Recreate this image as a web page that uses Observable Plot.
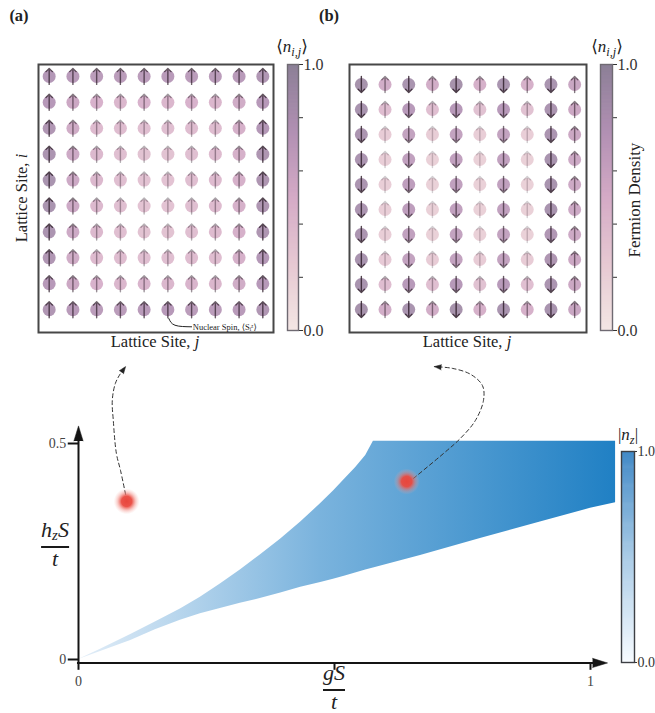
<!DOCTYPE html>
<html>
<head>
<meta charset="utf-8">
<script src="https://cdn.jsdelivr.net/npm/d3@7"></script>
<script src="https://cdn.jsdelivr.net/npm/@observablehq/plot@0.6"></script>
<style>
html, body { margin: 0; padding: 0; background: #fff; }
#fig { position: relative; width: 655px; height: 713px; overflow: hidden; background: #fff;
  font-family: "Liberation Serif", "Times New Roman", "DejaVu Serif", serif; color: #222; }
#fig svg { position: absolute; }
.lbl { position: absolute; white-space: nowrap; font-size: 16.5px; line-height: 1; }
.lbl sub { font-size: 0.72em; vertical-align: -0.35em; line-height: 0; }
.frac { position: absolute; display: inline-block; text-align: center; font-size: 22px; line-height: 20px; transform: translateX(-50%); white-space: nowrap; }
.frac .num { padding-bottom: 5px; line-height: 22px; }
.frac sub { font-size: 0.68em; vertical-align: -0.2em; line-height: 0; }
.frac .den { border-top: 2px solid #1a1a1a; line-height: 19px; padding-top: 1px; }
</style>
</head>
<body>
<div id="fig"></div>
<script>
// ---------------- data ----------------
// (a) fermion density <n_ij>, rows i (top -> bottom), columns j
const densityA = [
  [0.78,0.74,0.72,0.72,0.72,0.74,0.72,0.72,0.74,0.80],
  [0.76,0.60,0.50,0.46,0.50,0.46,0.50,0.46,0.56,0.76],
  [0.80,0.56,0.42,0.40,0.38,0.38,0.40,0.40,0.52,0.78],
  [0.84,0.58,0.44,0.38,0.35,0.35,0.38,0.42,0.52,0.82],
  [0.85,0.58,0.44,0.38,0.34,0.34,0.38,0.42,0.52,0.82],
  [0.85,0.58,0.44,0.38,0.34,0.34,0.38,0.42,0.52,0.82],
  [0.84,0.58,0.44,0.38,0.35,0.35,0.38,0.42,0.52,0.82],
  [0.80,0.56,0.42,0.40,0.38,0.38,0.40,0.40,0.52,0.78],
  [0.76,0.60,0.50,0.46,0.48,0.46,0.48,0.46,0.56,0.76],
  [0.80,0.74,0.72,0.72,0.74,0.76,0.72,0.72,0.74,0.80]
];
// (a) nuclear spin direction (+1 up, -1 down)
const spinA = [
  [1,1,1,1,1,1,1,1,1,1],[1,1,1,1,1,1,1,1,1,1],[1,1,1,1,1,1,1,1,1,1],[1,1,1,1,1,1,1,1,1,1],[1,1,1,1,1,1,1,1,1,1],
  [1,1,1,1,1,1,1,1,1,1],[1,1,1,1,1,1,1,1,1,1],[1,1,1,1,1,1,1,1,1,1],[1,1,1,1,1,1,1,1,1,1],[1,1,1,1,1,1,1,1,1,1]
];
// (b) fermion density
const densityB = [
  [0.88,0.55,0.85,0.55,0.88,0.52,0.85,0.52,0.85,0.62],
  [0.86,0.40,0.75,0.38,0.76,0.36,0.75,0.36,0.84,0.60],
  [0.84,0.26,0.66,0.25,0.66,0.24,0.66,0.24,0.84,0.60],
  [0.84,0.24,0.68,0.22,0.68,0.22,0.68,0.22,0.86,0.58],
  [0.84,0.24,0.70,0.22,0.68,0.22,0.68,0.22,0.86,0.58],
  [0.84,0.24,0.70,0.22,0.68,0.22,0.68,0.22,0.86,0.58],
  [0.84,0.24,0.68,0.22,0.66,0.22,0.66,0.22,0.80,0.58],
  [0.86,0.28,0.66,0.26,0.66,0.26,0.66,0.26,0.82,0.60],
  [0.86,0.40,0.75,0.38,0.76,0.36,0.75,0.38,0.84,0.60],
  [0.88,0.55,0.85,0.55,0.88,0.52,0.85,0.52,0.86,0.62]
];
// (b) nuclear spin direction
const spinB = [
  [-1,1,-1,1,-1,1,-1,1,-1,1],[-1,1,-1,1,-1,1,-1,1,-1,1],[-1,1,-1,1,-1,1,-1,1,-1,1],[-1,1,-1,1,-1,1,-1,1,-1,1],[-1,1,-1,1,-1,1,-1,1,-1,1],
  [-1,1,-1,1,-1,1,-1,1,-1,1],[-1,1,-1,1,-1,1,-1,1,-1,1],[-1,1,-1,1,-1,1,-1,1,-1,1],[-1,1,-1,1,-1,1,-1,1,-1,1],[-1,1,-1,1,-1,1,-1,1,-1,1]
];
const densityTicks = [0, 0.2, 0.4, 0.6, 0.8, 1];
const nzTicks = [0, 1];

// phase diagram: region boundaries (gS/t -> h_zS/t)
const gS     = [0,0.043,0.102,0.150,0.199,0.238,0.277,0.316,0.355,0.395,0.434,0.473,0.498,0.521,0.541,0.561,0.576,0.668,0.785,0.902,1.000,1.049];
const hUpper = [0,0.024,0.058,0.087,0.117,0.144,0.175,0.207,0.242,0.279,0.318,0.361,0.390,0.419,0.444,0.472,0.505,0.505,0.505,0.505,0.505,0.505];
const hLower = [0,0.0185,0.044,0.069,0.091,0.106,0.118,0.130,0.141,0.154,0.167,0.178,0.186,0.193,0.200,0.207,0.212,0.241,0.280,0.318,0.350,0.363];
// sampled parameter points (a) and (b)
const probeNames = ["a", "b"];
const probeG = [0.094, 0.641];
const probeH = [0.366, 0.412];
// dashed guide paths from probe points to panels
const guideAG = [0.092,0.082,0.074,0.068,0.066,0.072,0.082,0.092];
const guideAH = [0.382,0.438,0.477,0.553,0.600,0.639,0.662,0.678];
const guideBG = [0.654,0.713,0.746,0.775,0.791,0.789,0.766,0.730,0.695];
const guideBH = [0.419,0.477,0.512,0.553,0.600,0.634,0.660,0.674,0.678];
const hTicks = [0, 0.5], hTickLabels = ["0", "0.5"];
const gTicks = [0, 0.5, 1], gTickLabels = ["0", "", "1"];

// colours
const densityStops = [0, 0.25, 0.5, 0.75, 1];
const densityColors = ["#f3e6e4", "#e6c8d2", "#d4aac6", "#b08fb2", "#8b7f96"];
const nzStops = [0, 0.5, 1];
const nzColors = ["#f7fbff", "#a9cbe6", "#4189c6"];
const bandStops = [0, 0.45, 1];
const bandColors = ["#e3eef8", "#7ab3dd", "#2080c4"];

// ---------------- helpers ----------------
const fig = document.getElementById("fig");
const baseStyle = {background: "transparent", overflow: "visible", fontFamily: "'Liberation Serif', 'Times New Roman', 'DejaVu Serif', serif", fontSize: "15px", color: "#333"};
function place(node, left, top) { node.style.left = left + "px"; node.style.top = top + "px"; fig.appendChild(node); return node; }
function label(html, cx, cy, opts = {}) {
  const d = document.createElement("div");
  d.className = "lbl"; d.innerHTML = html;
  d.style.left = cx + "px"; d.style.top = cy + "px";
  d.style.transform = "translate(-50%,-50%)" + (opts.rotate ? ` rotate(${opts.rotate}deg)` : "");
  if (opts.size) d.style.fontSize = opts.size + "px";
  if (opts.weight) d.style.fontWeight = opts.weight;
  fig.appendChild(d); return d;
}
function frac(num, den, cx, barY) {
  const d = document.createElement("div");
  d.className = "frac";
  d.innerHTML = `<div class="num">${num}</div><div class="den">${den}</div>`;
  d.style.left = cx + "px"; d.style.top = (barY - 27) + "px";
  fig.appendChild(d); return d;
}

function lattice(density, spins, o) {
  const cells = density.flatMap((row, i) => row.map((n, j) => ({i, j, n, s: spins[i][j]})));
  return Plot.plot({
    width: 300, height: 325, marginTop: 24, marginBottom: 33, marginLeft: o.ml, marginRight: o.mr,
    style: baseStyle,
    x: {domain: o.xd, axis: null},
    y: {domain: o.yd, axis: null},
    color: {type: "linear", domain: densityStops, range: densityColors},
    opacity: {domain: [0, 1], range: [0.5, 1]},
    marks: [
      Plot.dot(cells, {x: "j", y: "i", r: 6.5, fill: "n", fillOpacity: 0.9}),
      Plot.vector(cells, {x: "j", y: "i", length: 16, rotate: d => d.s > 0 ? 0 : 180, anchor: "middle",
        stroke: "#33222f", strokeWidth: 1.4, strokeOpacity: "n"}),
      Plot.frame({stroke: "#474747", strokeWidth: 2}),
      ...(o.extra || [])
    ]
  });
}

function colorbar(o) {
  const steps = d3.range(0, 1, 0.005);
  return Plot.plot({
    width: o.w, height: o.h, marginLeft: o.ml, marginRight: o.mr, marginTop: o.mt, marginBottom: o.mb,
    style: {...baseStyle, fontSize: o.fs + "px"},
    x: {domain: [0, 1], axis: null},
    y: {domain: [0, 1], axis: "right", ticks: o.ticks, tickFormat: d => (d === 0 || d === 1) ? d.toFixed(1) : "",
        tickSize: o.tickSize, tickPadding: 1, label: null},
    color: {type: "linear", domain: o.stops, range: o.colors},
    marks: [
      Plot.rect(steps, {x1: 0, x2: 1, y1: d => d, y2: d => Math.min(1, d + 0.008), fill: d => d}),
      Plot.frame({stroke: o.stroke, strokeWidth: 1.4})
    ]
  });
}

// ---------------- panels (a), (b) ----------------
place(lattice(densityA, spinA, {
  ml: 38, mr: 27, xd: [-0.45, 9.45], yd: [9.88, -0.46],
  extra: [
    Plot.line([{x: 5.04, y: 9.34}, {x: 5.3, y: 9.6}, {x: 6.0, y: 9.66}], {x: "x", y: "y", curve: "natural", stroke: "#222", strokeWidth: 1}),
    Plot.text(["Nuclear Spin, ⟨Sᵢᶻ⟩"], {x: 6.05, y: 9.66, text: d => d, textAnchor: "start", fontSize: 8.5, fill: "#222"})
  ]
}), 0, 40);
place(colorbar({w: 50, h: 285, ml: 7, mr: 32, mt: 9, mb: 10, ticks: densityTicks, tickSize: 4, fs: 16,
  stops: densityStops, colors: densityColors, stroke: "#6f6a72"}), 280, 55);

place(lattice(densityB, spinB, {ml: 39, mr: 24, xd: [-0.5, 9.5], yd: [9.92, -0.8]}), 310, 40);
place(colorbar({w: 50, h: 285, ml: 8, mr: 30, mt: 9, mb: 10, ticks: densityTicks, tickSize: 4, fs: 16,
  stops: densityStops, colors: densityColors, stroke: "#6f6a72"}), 592, 55);

// ---------------- phase diagram ----------------
const band = gS.map((g, k) => ({g, lo: hLower[k], hi: hUpper[k]}));
const probes = probeNames.map((p, k) => ({p, g: probeG[k], h: probeH[k]}));
const guides = [
  ...guideAG.map((g, k) => ({p: "a", g, h: guideAH[k]})),
  ...guideBG.map((g, k) => ({p: "b", g, h: guideBH[k]}))
];
const axisY0 = -0.008;
const defsMark = (index, scales) => {
  const sx = scales && typeof scales.x === "function" ? scales.x : (v => 78 + 512 * v);
  const defs = d3.create("svg:defs");
  const lg = defs.append("linearGradient").attr("id", "bandGrad").attr("gradientUnits", "userSpaceOnUse")
    .attr("x1", sx(0)).attr("x2", sx(d3.max(gS))).attr("y1", 0).attr("y2", 0);
  bandStops.forEach((o, k) => lg.append("stop").attr("offset", o).attr("stop-color", bandColors[k]));
  const rg = defs.append("radialGradient").attr("id", "glow");
  [[0, "#e8463c", 1], [0.4, "#ea4a40", 0.95], [0.7, "#ef7a70", 0.4], [1, "#f6b0a8", 0]]
    .forEach(([o, c, a]) => rg.append("stop").attr("offset", o).attr("stop-color", c).attr("stop-opacity", a));
  return defs.node();
};
place(Plot.plot({
  width: 655, height: 358, margin: 0,
  style: {...baseStyle, fontSize: "14px"},
  x: {domain: [0, 1], range: [78, 590], axis: null},
  y: {domain: [0, 0.5], range: [304, 88], axis: null},
  marks: [
    defsMark,
    Plot.areaY(band, {x: "g", y1: "lo", y2: "hi", fill: "url(#bandGrad)"}),
    Plot.line(guides, {x: "g", y: "h", z: "p", curve: "catmull-rom", stroke: "#333", strokeWidth: 1, strokeDasharray: "4,3"}),
    Plot.vector(guides.filter((d, k, a) => k === a.length - 1 || a[k + 1].p !== d.p), {
      x: "g", y: "h", length: 7, r: 2.6, shape: "spike", anchor: "end",
      rotate: d => { const s = guides.filter(e => e.p === d.p); const q = s[s.length - 2];
        return Math.atan2(d.g - q.g, (d.h - q.h) * 432 / 512) * 180 / Math.PI; },
      fill: "#222", stroke: "#222", strokeWidth: 0.5}),
    Plot.dot(probes, {x: "g", y: "h", r: 13, fill: "url(#glow)"}),
    // axes
    Plot.ruleX([0], {y1: axisY0 - 0.002, y2: 0.51, stroke: "#141414", strokeWidth: 2}),
    Plot.ruleY([axisY0], {x1: -0.002, x2: 1.01, stroke: "#141414", strokeWidth: 2}),
    Plot.vector([{g: 0, h: 0.506, r: 0}, {g: 1.004, h: axisY0, r: 90}], {x: "g", y: "h", rotate: "r", length: 15, r: 4.6,
      shape: "spike", anchor: "start", fill: "#141414", stroke: "#141414", strokeWidth: 0.5}),
    Plot.ruleY(hTicks, {x1: -0.02, x2: 0, stroke: "#141414", strokeWidth: 2}),
    Plot.ruleX(gTicks, {y1: axisY0, y2: axisY0 - 0.017, stroke: "#141414", strokeWidth: 2}),
    Plot.text(hTicks, {x: -0.024, y: d => d, text: (d, k) => hTickLabels[k], textAnchor: "end", fill: "#444"}),
    Plot.text(gTicks, {x: d => d, y: axisY0 - 0.042, text: (d, k) => gTickLabels[k], fill: "#444"})
  ]
}), 0, 355);
place(colorbar({w: 45, h: 235, ml: 11, mr: 21, mt: 11, mb: 13, ticks: nzTicks, tickSize: 2, fs: 14,
  stops: nzStops, colors: nzColors, stroke: "#3c3f44"}), 610, 440);

// ---------------- text ----------------
label("(a)", 19, 16, {size: 16.5, weight: "bold"});
label("(b)", 329, 16, {size: 16.5, weight: "bold"});
label("⟨<i>n</i><sub><i>i,j</i></sub>⟩", 292, 46, {size: 17});
label("⟨<i>n</i><sub><i>i,j</i></sub>⟩", 607, 46, {size: 17});
label("Lattice Site, <i>i</i>", 22, 198, {rotate: -90});
label("Lattice Site, <i>j</i>", 155, 342);
label("Lattice Site, <i>j</i>", 467, 342);
label("Fermion Density", 634, 200, {rotate: -90, size: 17});
label("|<i>n</i><sub><i>z</i></sub>|", 628, 434, {size: 17});
frac("<i>h</i><sub><i>z</i></sub><i>S</i>", "<i>t</i>", 55, 546);
frac("<i>gS</i>", "<i>t</i>", 334, 689);
</script>
</body>
</html>
